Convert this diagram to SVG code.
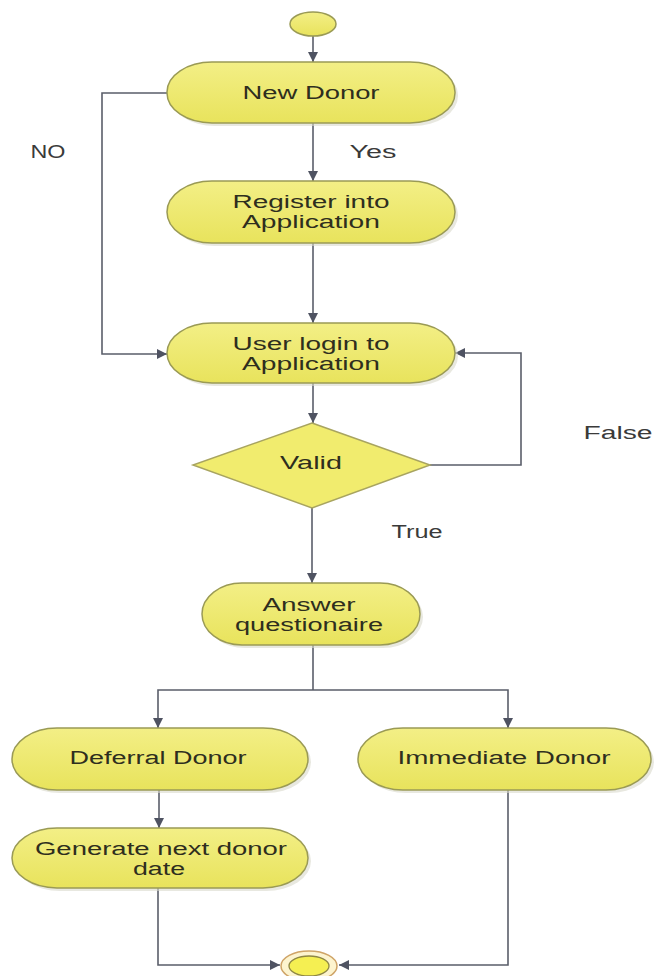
<svg xmlns="http://www.w3.org/2000/svg" width="655" height="976" viewBox="0 0 655 976">
<defs>
<linearGradient id="yg" x1="0" y1="0" x2="0" y2="1">
<stop offset="0" stop-color="#f3ef86"/>
<stop offset="1" stop-color="#e8e35c"/>
</linearGradient>
<marker id="arr" viewBox="0 0 10 10" refX="10" refY="5" markerWidth="10" markerHeight="10" markerUnits="userSpaceOnUse" orient="auto">
<path d="M0,0 L10,5 L0,10 z" fill="#4f5362"/>
</marker>
<style>
.node{fill:url(#yg);stroke:#9a9a55;stroke-width:1.5}
.shadow{fill:#d9d9cc;opacity:0.6}
.t{font-family:"Liberation Sans",Arial,sans-serif;font-size:18px;fill:#2e2e1e;text-anchor:middle}
.lbl{font-family:"Liberation Sans",Arial,sans-serif;font-size:18px;fill:#3a3a3a;text-anchor:middle}
.c{fill:none;stroke:#5a5e6a;stroke-width:1.6}
</style>
</defs>
<rect width="655" height="976" fill="#ffffff"/>

<g id="connectors">
<path class="c" d="M313,36 V62" marker-end="url(#arr)"/>
<path class="c" d="M313,123 V181" marker-end="url(#arr)"/>
<path class="c" d="M313,243 V323" marker-end="url(#arr)"/>
<path class="c" d="M167,93 H102 V354 H167" marker-end="url(#arr)"/>
<path class="c" d="M313,383 V423" marker-end="url(#arr)"/>
<path class="c" d="M430,465 H521 V353 H455" marker-end="url(#arr)"/>
<path class="c" d="M312,508 V583" marker-end="url(#arr)"/>
<path class="c" d="M313,645 V690"/>
<path class="c" d="M313,690 H158 V728" marker-end="url(#arr)"/>
<path class="c" d="M313,690 H508 V728" marker-end="url(#arr)"/>
<path class="c" d="M159,790 V828" marker-end="url(#arr)"/>
<path class="c" d="M158,888 V965 H280" marker-end="url(#arr)"/>
<path class="c" d="M508,790 V965 H339" marker-end="url(#arr)"/>
<text class="lbl" x="48" y="158" textLength="35" lengthAdjust="spacingAndGlyphs">NO</text>
<text class="lbl" x="373" y="158" textLength="47" lengthAdjust="spacingAndGlyphs">Yes</text>
<text class="lbl" x="618" y="439" textLength="69" lengthAdjust="spacingAndGlyphs">False</text>
<text class="lbl" x="417" y="538" textLength="51" lengthAdjust="spacingAndGlyphs">True</text>
</g>

<g id="start">
<ellipse cx="313" cy="24" rx="23" ry="12" fill="url(#yg)" stroke="#9a9a55" stroke-width="1.5"/>
</g>

<g id="new-donor">
<rect class="shadow" x="170" y="65" width="288" height="61" rx="45" ry="30"/>
<rect class="node" x="167" y="62" width="288" height="61" rx="45" ry="30"/>
<text class="t" x="311" y="99" textLength="137" lengthAdjust="spacingAndGlyphs">New Donor</text>
</g>

<g id="register">
<rect class="shadow" x="170" y="184" width="288" height="62" rx="45" ry="31"/>
<rect class="node" x="167" y="181" width="288" height="62" rx="45" ry="31"/>
<text class="t" x="311" y="208" textLength="157" lengthAdjust="spacingAndGlyphs">Register into</text>
<text class="t" x="311" y="228" textLength="138" lengthAdjust="spacingAndGlyphs">Application</text>
</g>

<g id="user-login">
<rect class="shadow" x="170" y="326" width="288" height="60" rx="45" ry="30"/>
<rect class="node" x="167" y="323" width="288" height="60" rx="45" ry="30"/>
<text class="t" x="311" y="350" textLength="157" lengthAdjust="spacingAndGlyphs">User login to</text>
<text class="t" x="311" y="370" textLength="138" lengthAdjust="spacingAndGlyphs">Application</text>
</g>

<g id="valid">
<polygon points="312,423 430,465 312,508 193,465" fill="#f1ec6e" stroke="#a8a460" stroke-width="1.5"/>
<text class="t" x="311" y="469" textLength="62" lengthAdjust="spacingAndGlyphs">Valid</text>
</g>

<g id="answer">
<rect class="shadow" x="205" y="586" width="218" height="62" rx="40" ry="31"/>
<rect class="node" x="202" y="583" width="218" height="62" rx="40" ry="31"/>
<text class="t" x="309" y="611" textLength="93" lengthAdjust="spacingAndGlyphs">Answer</text>
<text class="t" x="309" y="631" textLength="148" lengthAdjust="spacingAndGlyphs">questionaire</text>
</g>

<g id="deferral">
<rect class="shadow" x="15" y="731" width="296" height="62" rx="45" ry="31"/>
<rect class="node" x="12" y="728" width="296" height="62" rx="45" ry="31"/>
<text class="t" x="158" y="764" textLength="177" lengthAdjust="spacingAndGlyphs">Deferral Donor</text>
</g>

<g id="immediate">
<rect class="shadow" x="361" y="731" width="293" height="62" rx="45" ry="31"/>
<rect class="node" x="358" y="728" width="293" height="62" rx="45" ry="31"/>
<text class="t" x="504" y="764" textLength="213" lengthAdjust="spacingAndGlyphs">Immediate Donor</text>
</g>

<g id="generate">
<rect class="shadow" x="15" y="831" width="296" height="60" rx="45" ry="30"/>
<rect class="node" x="12" y="828" width="296" height="60" rx="45" ry="30"/>
<text class="t" x="161" y="855" textLength="252" lengthAdjust="spacingAndGlyphs">Generate next donor</text>
<text class="t" x="159" y="875" textLength="52" lengthAdjust="spacingAndGlyphs">date</text>
</g>

<g id="end">
<ellipse cx="309" cy="966" rx="28" ry="15" fill="#fdf4cf" stroke="#cfa467" stroke-width="1.5"/>
<ellipse cx="309" cy="966" rx="20" ry="10" fill="#f5ef52" stroke="#8e8744" stroke-width="1.3"/>
</g>
</svg>
